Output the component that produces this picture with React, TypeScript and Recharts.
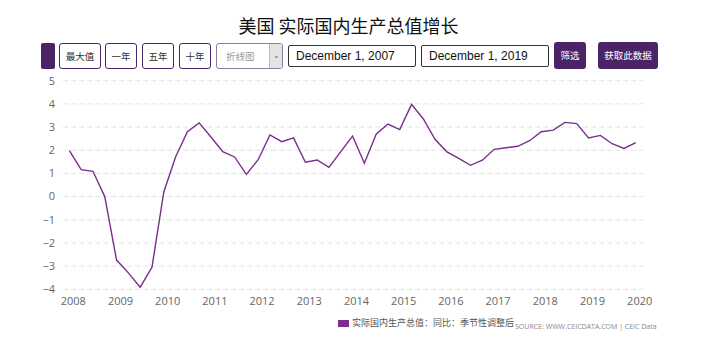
import React from 'react';
import { LineChart, Line, XAxis, YAxis, CartesianGrid } from 'recharts';

// quarterly periods, Dec 2007 – Dec 2019
const periods = [
  '2007-12', '2008-03', '2008-06', '2008-09', '2008-12', '2009-03', '2009-06', '2009-09',
  '2009-12', '2010-03', '2010-06', '2010-09', '2010-12', '2011-03', '2011-06', '2011-09',
  '2011-12', '2012-03', '2012-06', '2012-09', '2012-12', '2013-03', '2013-06', '2013-09',
  '2013-12', '2014-03', '2014-06', '2014-09', '2014-12', '2015-03', '2015-06', '2015-09',
  '2015-12', '2016-03', '2016-06', '2016-09', '2016-12', '2017-03', '2017-06', '2017-09',
  '2017-12', '2018-03', '2018-06', '2018-09', '2018-12', '2019-03', '2019-06', '2019-09',
  '2019-12',
];

// 实际国内生产总值：同比：季节性调整后 (%)
const gdpYoY = [
  1.98, 1.16, 1.09, 0.0, -2.74, -3.29, -3.91, -3.05,
  0.19, 1.71, 2.8, 3.18, 2.57, 1.94, 1.71, 0.96,
  1.59, 2.66, 2.37, 2.53, 1.48, 1.58, 1.26, 1.94,
  2.61, 1.44, 2.69, 3.13, 2.89, 3.98, 3.35, 2.46,
  1.93, 1.65, 1.35, 1.57, 2.04, 2.11, 2.17, 2.41,
  2.8, 2.87, 3.2, 3.15, 2.53, 2.64, 2.28, 2.08,
  2.33,
];

const yearTicks = [2008, 2009, 2010, 2011, 2012, 2013, 2014, 2015, 2016, 2017, 2018, 2019, 2020];
const valueTicks = [-4, -3, -2, -1, 0, 1, 2, 3, 4, 5];
const rangeButtons = ['最大值', '一年', '五年', '十年'];

const PURPLE = '#4b2466';
const LINE = '#7b2d8e';

const toYear = (p: string) => {
  const [y, m] = p.split('-').map(Number);
  return y + (m - 1) / 12;
};

const chartData = periods.map((p, i) => ({ t: toYear(p), v: gdpYoY[i] }));

const cjk = '"Noto Sans CJK SC", "Noto Sans", sans-serif';

export default function App() {
  const btnLefts = [59, 105, 142, 179];
  const btnWidths = [40, 30, 30, 30];

  return (
    <div style={{ position: 'absolute', left: 0, top: 0, width: 704, height: 355, background: '#fff', fontFamily: cjk }}>
      <div style={{ position: 'absolute', left: 0, width: 697, top: 12, lineHeight: '26px', textAlign: 'center', fontSize: 18, color: '#111' }}>
        美国 实际国内生产总值增长
      </div>

      {/* control bar */}
      <div style={{ position: 'absolute', left: 41, top: 43, width: 14, height: 26, background: PURPLE, borderRadius: 2 }} />
      {rangeButtons.map((b, i) => (
        <div key={b} style={{
          position: 'absolute', left: btnLefts[i], top: 43, width: btnWidths[i], height: 24,
          border: '1px solid ' + PURPLE, borderRadius: 3, fontSize: 9.5, color: '#333',
          lineHeight: '24px', textAlign: 'center', boxSizing: 'content-box',
        }}>{b}</div>
      ))}
      <div style={{
        position: 'absolute', left: 216, top: 43, width: 65, height: 24, border: '1px solid #8c7c9c',
        borderRadius: 3, fontSize: 9.5, color: '#9a9a9a', lineHeight: '24px', overflow: 'hidden',
      }}>
        <span style={{ marginLeft: 9 }}>折线图</span>
        <div style={{ position: 'absolute', right: 0, top: 0, width: 12, height: 24, background: '#e4e4e4', borderLeft: '1px solid #bbb', color: '#666', fontSize: 8, textAlign: 'center', lineHeight: '22px' }}>⌄</div>
      </div>
      {['December 1, 2007', 'December 1, 2019'].map((d, i) => (
        <div key={d} style={{
          position: 'absolute', left: i === 0 ? 288 : 421, top: 45, width: 119, height: 20,
          border: '1px solid #333', borderRadius: 2, fontFamily: '"Liberation Sans", Arial, sans-serif',
          fontSize: 12, color: '#111', lineHeight: '20px', paddingLeft: 7, boxSizing: 'content-box',
        }}>{d}</div>
      ))}
      <div style={{ position: 'absolute', left: 554, top: 42, width: 32, height: 27, background: PURPLE, borderRadius: 3, color: '#fff', fontSize: 9.5, lineHeight: '27px', textAlign: 'center' }}>筛选</div>
      <div style={{ position: 'absolute', left: 598, top: 42, width: 60, height: 27, background: PURPLE, borderRadius: 3, color: '#fff', fontSize: 9.5, lineHeight: '27px', textAlign: 'center' }}>获取此数据</div>

      <div style={{ position: 'absolute', left: 0, top: 0 }}>
        <LineChart width={704} height={355} data={chartData} margin={{ top: 80.7, right: 61, left: 13, bottom: 45.7 }}>
          <CartesianGrid vertical={false} stroke="#e3e3e3" strokeDasharray="5 3" />
          <XAxis
            dataKey="t"
            type="number"
            domain={[2007.782, 2020.07]}
            ticks={yearTicks}
            allowDataOverflow
            axisLine={false}
            tickLine={false}
            height={20}
            tick={{ fontSize: 11, fill: '#666', fontFamily: '"Open Sans", sans-serif' }}
          />
          <YAxis
            domain={[-4, 5]}
            ticks={valueTicks}
            axisLine={false}
            tickLine={false}
            width={50}
            tickFormatter={(v: number) => String(v).replace('-', '\u2212')}
            tick={{ fontSize: 11, fill: '#666', fontFamily: '"Open Sans", sans-serif' }}
          />
          <Line dataKey="v" stroke={LINE} strokeWidth={1.4} dot={false} isAnimationActive={false} />
        </LineChart>
      </div>

      {/* legend + source */}
      <div style={{ position: 'absolute', left: 338, top: 320, width: 11, height: 7, background: '#7e2c8e' }} />
      <div style={{ position: 'absolute', left: 352, top: 316, fontSize: 9, color: '#555', lineHeight: '14px', whiteSpace: 'nowrap' }}>
        实际国内生产总值：同比：季节性调整后
      </div>
      <div style={{ position: 'absolute', left: 515, top: 322, fontSize: 7, color: '#888', fontFamily: '"Open Sans", sans-serif', lineHeight: '9px', whiteSpace: 'nowrap' }}>
        SOURCE: WWW.CEICDATA.COM | CEIC Data
      </div>
    </div>
  );
}
